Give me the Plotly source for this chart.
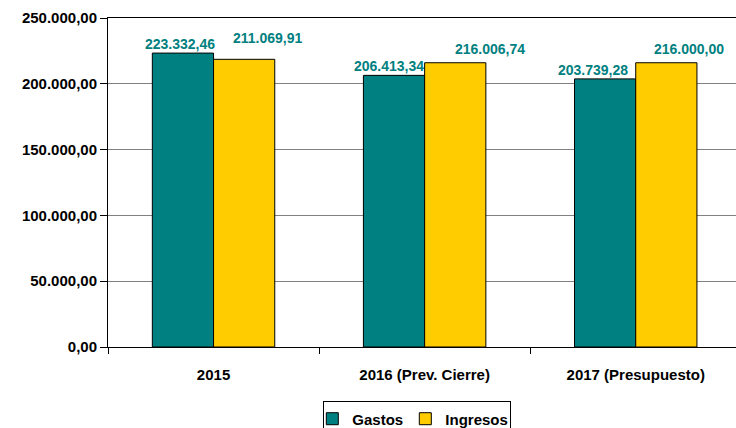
import plotly.graph_objects as go

categories = ["2015", "2016 (Prev. Cierre)", "2017 (Presupuesto)"]
gastos = [223332.46, 206413.34, 203739.28]
ingresos = [218600.00, 216006.74, 216000.00]
gastos_labels = ["223.332,46", "206.413,34", "203.739,28"]
ingresos_labels = ["211.069,91", "216.006,74", "216.000,00"]
y_ticks = [0, 50000, 100000, 150000, 200000, 250000]
y_tick_labels = ["0,00", "50.000,00", "100.000,00", "150.000,00", "200.000,00", "250.000,00"]

TEAL = "#008080"
YELLOW = "#FFCC00"
FONT = "Liberation Sans, Arial, sans-serif"

fig = go.Figure()
fig.add_trace(go.Bar(name="Gastos", x=categories, y=gastos,
                     marker=dict(color=TEAL, line=dict(color="black", width=1))))
fig.add_trace(go.Bar(name="Ingresos", x=categories, y=ingresos,
                     marker=dict(color=YELLOW, line=dict(color="black", width=1))))

# value labels
g_xshift = [-4, -6, -13]
i_xshift = [24, 35, 23]
i_yshift = [21, 14, 14]
for i, c in enumerate(categories):
    fig.add_annotation(x=i, y=gastos[i], text="<b>%s</b>" % gastos_labels[i],
                       showarrow=False, xshift=-30 + g_xshift[i], yshift=9,
                       font=dict(family=FONT, size=14, color=TEAL))
    fig.add_annotation(x=i, y=ingresos[i], text="<b>%s</b>" % ingresos_labels[i],
                       showarrow=False, xshift=30 + i_xshift[i], yshift=i_yshift[i],
                       font=dict(family=FONT, size=14, color=TEAL))

fig.update_layout(
    width=736, height=428,
    margin=dict(l=108, r=0, t=18, b=81, autoexpand=False),
    paper_bgcolor="white", plot_bgcolor="white",
    barmode="group", bargap=0.42, bargroupgap=0,
    font=dict(family=FONT, size=14, color="black"),
    showlegend=True,
    legend=dict(orientation="h", xref="container", yref="container",
                x=0.567, xanchor="center", y=0.062, yanchor="top",
                bordercolor="black", borderwidth=1,
                font=dict(family=FONT, size=15, color="black", weight="bold"),
                itemwidth=30, tracegroupgap=0, entrywidth=60,
                indentation=-12),
)
fig.update_xaxes(range=[-0.5, 2.475], showline=True, linecolor="black", linewidth=1,
                 mirror=True, ticks="outside", tickson="boundaries", ticklen=6,
                 tickcolor="black", ticklabelstandoff=14, automargin=False,
                 tickfont=dict(family=FONT, size=15, color="black", weight="bold"),
                 showgrid=False)
fig.update_yaxes(range=[0, 250000], tickvals=y_ticks, ticktext=y_tick_labels,
                 showline=True, linecolor="black", linewidth=1, automargin=False,
                 ticks="outside", ticklen=7, tickcolor="black",
                 showgrid=True, gridcolor="#808080", gridwidth=1,
                 tickfont=dict(family=FONT, size=15, color="black", weight="bold"),
                 zeroline=False)

fig.write_html("out.html", config={"displayModeBar": False},
               post_script="document.body.style.margin='0';document.body.style.overflow='hidden';")
